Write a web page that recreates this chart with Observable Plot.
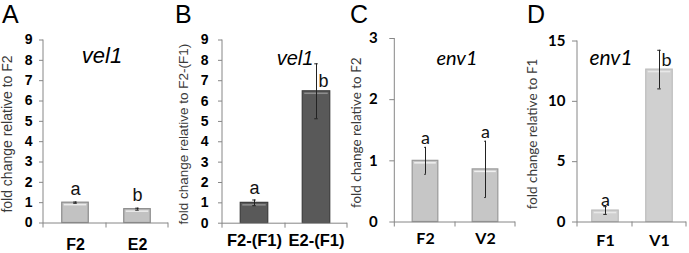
<!DOCTYPE html>
<html><head><meta charset="utf-8">
<script src="https://cdn.jsdelivr.net/npm/d3@7"></script>
<script src="https://cdn.jsdelivr.net/npm/@observablehq/plot@0.6"></script>
<style>
body{margin:0;background:#fff;}
#wrap{position:relative;width:689px;height:253px;overflow:hidden;background:#fff;}
.panel{position:absolute;top:0;}
</style></head><body><div id="wrap"></div>
<script>
// ---- data ----
const catsA = ["F2", "E2"];
const valsA = [1.0, 0.68];
const errsA = [0.03, 0.05];
const sigA = ["a", "b"];
const ticksA = [0, 1, 2, 3, 4, 5, 6, 7, 8, 9];

const catsB = ["F2-(F1)", "E2-(F1)"];
const valsB = [1.0, 6.48];
const errsB = [0.14, 1.35];
const sigB = ["a", "b"];
const ticksB = [0, 1, 2, 3, 4, 5, 6, 7, 8, 9];

const catsC = ["F2", "V2"];
const valsC = [1.0, 0.86];
const errsC = [0.22, 0.46];
const sigC = ["a", "a"];
const ticksC = [0, 1, 2, 3];

const catsD = ["F1", "V1"];
const valsD = [0.95, 12.63];
const errsD = [0.32, 1.6];
const sigD = ["a", "b"];
const ticksD = [0, 5, 10, 15];

const ARIAL = "Liberation Sans, Arial, sans-serif";
const CALI = "Lato, 'Open Sans', sans-serif";

const panels = [
  {letter: "A", gene: "vel1", title: "fold change relative to F2", cats: catsA, vals: valsA, errs: errsA, sig: sigA, ticks: ticksA,
   left: 0, width: 172, ml: 43, mr: 4, mt: 39.5, mb: 30.5, barW: 27, cap: 4,
   font: ARIAL, tickFS: 14, tickSize: 4, tickPad: 7, xFS: 16, xPad: 16,
   titleFS: 14, titleX: 12, letterX: 2, geneX: 102, geneY: 63, geneFS: 22, sigFS: 18, sigDy: -7,
   fill: "#c2c2c2", stroke: "#8a8a8a", hl: "#ececec"},
  {letter: "B", gene: "vel1", title: "fold change relative to F2-(F1)", cats: catsB, vals: valsB, errs: errsB, sig: sigB, ticks: ticksB,
   left: 172, width: 178, ml: 50, mr: 3, mt: 39.5, mb: 30.3, barW: 28, cap: 4,
   font: ARIAL, tickFS: 14, tickSize: 4, tickPad: 10, xFS: 16.5, xPad: 11,
   titleFS: 13.5, titleX: 16, letterX: 3, geneX: 123, geneY: 65, geneFS: 20, sigFS: 18, sigDy: -5.5,
   fill: "#595959", stroke: "#3c3c3c", hl: "#8e8e8e"},
  {letter: "C", gene: "env1", title: "fold change relative to F2", cats: catsC, vals: valsC, errs: errsC, sig: sigC, ticks: ticksC,
   left: 345, width: 170, ml: 49.3, mr: 0, mt: 38, mb: 31.5, barW: 26, cap: 2,
   font: CALI, tickFS: 15, tickSize: 5, tickPad: 12, xFS: 16, xPad: 11,
   titleFS: 13.5, titleX: 16, letterX: 5, geneX: 112, geneY: 65, geneFS: 20, sigFS: 18, sigDy: -3.5,
   fill: "#c6c6c6", stroke: "#9a9a9a", hl: "#f0f0f0"},
  {letter: "D", gene: "env1", title: "fold change relative to F1", cats: catsD, vals: valsD, errs: errsD, sig: sigD, ticks: ticksD,
   left: 515, width: 174, ml: 62, mr: 3, mt: 40.5, mb: 31.5, barW: 27, cap: 4,
   font: CALI, tickFS: 15, tickSize: 5, tickPad: 7, xFS: 16, xPad: 13,
   titleFS: 13.5, titleX: 22, letterX: 12, geneX: 96, geneY: 65, geneFS: 21, sigFS: 18, sigDy: -1,
   fill: "#d0d0d0", stroke: "#bcbcbc", hl: "#e8e8e8"}
];

const AXIS = "#868686";
const wrap = document.getElementById("wrap");

for (const p of panels) {
  const data = p.cats.map((c, i) => ({cat: c, v: p.vals[i], e: p.errs[i], s: p.sig[i]}));
  const yMax = p.ticks[p.ticks.length - 1];
  const step = (p.width - p.ml - p.mr) / p.cats.length;
  const inset = (step - p.barW) / 2;
  const capInset = (step - p.cap) / 2;
  const side = d => d.v + d.e > 0.7 * yMax; // letter placed beside a tall error bar
  const chart = Plot.plot({
    width: p.width,
    height: 253,
    marginLeft: p.ml,
    marginRight: p.mr,
    marginTop: p.mt,
    marginBottom: p.mb,
    style: {fontFamily: p.font, background: "transparent", overflow: "visible"},
    x: {domain: p.cats, padding: 0, label: null},
    y: {domain: [0, yMax], label: null},
    marks: [
      Plot.axisY({ticks: p.ticks, tickFormat: d3.format("d"), tickSize: p.tickSize, tickPadding: p.tickPad, stroke: AXIS,
        fontSize: p.tickFS, fontWeight: "bold", fill: "#000", label: null}),
      Plot.axisX({tickSize: 0, tickPadding: p.xPad, fontSize: p.xFS, fontWeight: "bold", fill: "#000", label: null}),
      Plot.barY(data, {x: "cat", y: "v", fill: p.fill, stroke: p.stroke, strokeWidth: 1.2, insetLeft: inset, insetRight: inset}),
      Plot.tickY(data, {x: "cat", y: "v", stroke: p.hl, strokeWidth: 1.5, dy: 2, insetLeft: inset + 2, insetRight: inset + 2}),
      Plot.ruleY([0], {stroke: AXIS}),
      Plot.ruleX(data, {x: "cat", y1: d => d.v - d.e, y2: d => d.v + d.e, stroke: "#222", strokeWidth: 1}),
      Plot.tickY(data, {x: "cat", y: d => d.v + d.e, stroke: "#222", insetLeft: capInset, insetRight: capInset}),
      Plot.tickY(data, {x: "cat", y: d => d.v - d.e, stroke: "#222", insetLeft: capInset, insetRight: capInset}),
      Plot.text(data.filter(d => !side(d)), {x: "cat", y: d => d.v + d.e, text: "s", dy: p.sigDy, lineAnchor: "bottom",
        fontSize: p.sigFS, fill: "#111"}),
      Plot.text(data.filter(side), {x: "cat", y: "v", text: "s", dx: 2, dy: -4, textAnchor: "start", lineAnchor: "bottom",
        fontSize: p.sigFS, fill: "#111"})
    ]
  });
  const svg = d3.select(chart);
  const x = chart.scale("x");
  const y = chart.scale("y");
  const y0 = y.apply(0);
  // y axis line
  svg.append("line").attr("x1", p.ml).attr("x2", p.ml).attr("y1", y.apply(yMax)).attr("y2", y0 + 5)
    .attr("stroke", AXIS);
  // category separator ticks
  const bounds = p.cats.map(c => x.apply(c)).concat([x.apply(p.cats[p.cats.length - 1]) + x.step]);
  for (const b of bounds.slice(1)) {
    svg.append("line").attr("x1", b).attr("x2", b).attr("y1", y0).attr("y2", y0 + 5).attr("stroke", AXIS);
  }
  // y title
  svg.append("text").text(p.title)
    .attr("transform", `translate(${p.titleX},${(p.mt + y0) / 2 + 3}) rotate(-90)`)
    .attr("text-anchor", "middle").attr("font-family", p.font).attr("font-size", p.titleFS)
    .attr("font-weight", "normal").attr("fill", "#3a3a3a");
  // panel letter
  svg.append("text").text(p.letter).attr("x", p.letterX).attr("y", 23).attr("text-anchor", "start")
    .attr("font-family", ARIAL).attr("font-size", 25).attr("font-weight", "normal").attr("fill", "#000");
  // gene name
  svg.append("text").text(p.gene).attr("x", p.geneX).attr("y", p.geneY).attr("text-anchor", "middle")
    .attr("font-family", p.font).attr("font-style", "italic").attr("font-weight", "normal")
    .attr("font-size", p.geneFS).attr("fill", "#000");
  const div = document.createElement("div");
  div.className = "panel";
  div.style.left = p.left + "px";
  div.appendChild(chart);
  wrap.appendChild(div);
}
</script>
</body></html>
